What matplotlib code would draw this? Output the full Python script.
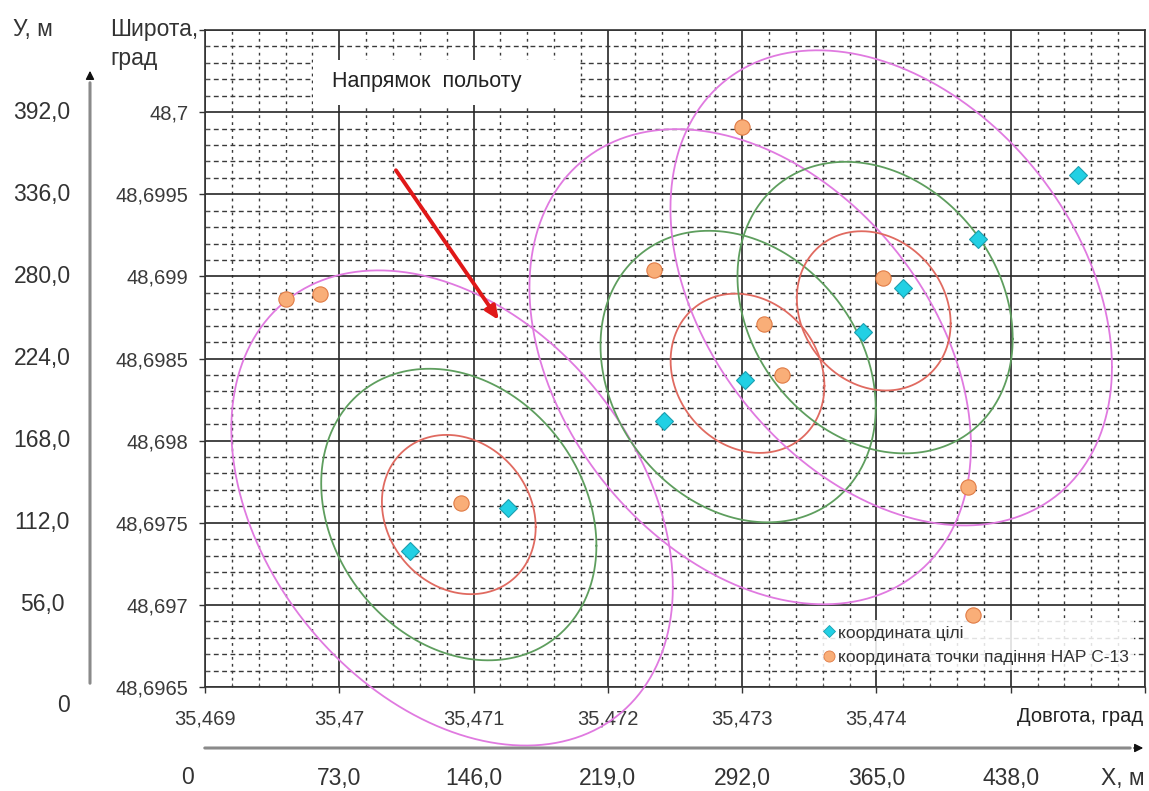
import numpy as np
import matplotlib.pyplot as plt
from matplotlib.lines import Line2D
from matplotlib.patches import Rectangle
from matplotlib.transforms import blended_transform_factory

plt.rcParams['font.family'] = ['Liberation Sans', 'DejaVu Sans']

# target coordinates (deg)
target_lon = [35.47053, 35.47126, 35.47242, 35.47302, 35.47390, 35.47420, 35.47476, 35.47550]
target_lat = [48.69733, 48.69759, 48.69812, 48.69837, 48.69866, 48.69893, 48.69923, 48.69962]

# impact points of the S-13 rockets (deg)
impact_lon = [35.46960, 35.46986, 35.47091, 35.47234, 35.47300, 35.47316, 35.47330, 35.47405, 35.47468, 35.47472]
impact_lat = [48.69886, 48.69889, 48.69762, 48.69904, 48.69991, 48.69871, 48.69840, 48.69899, 48.69772, 48.69694]

# dispersion ellipses: centre (deg), half width / half height (m), x-shift of top point (m)
ell_lon = [35.47089, 35.47089, 35.47084, 35.47304, 35.47297, 35.47306, 35.47398, 35.47399, 35.47411]
ell_lat = [48.69755, 48.69755, 48.69759, 48.69841, 48.69839, 48.69845, 48.69879, 48.69881, 48.69893]
ell_w = [41.8, 74.8, 120.0, 41.8, 74.8, 120.0, 41.8, 74.8, 120.0]
ell_h = [54.3, 99.4, 162.0, 54.3, 99.4, 162.0, 54.3, 99.4, 162.0]
ell_tilt = [-6.6, -16.0, -40.0, -6.6, -16.0, -40.0, -6.6, -16.0, -40.0]
ell_color = ['#e06a60', '#5e9e5e', '#e07ae0'] * 3

# flight direction arrow (deg)
flight_from = (35.47041, 48.69966)
flight_to = (35.47120, 48.69872)

lon_ticks = [35.469, 35.470, 35.471, 35.472, 35.473, 35.474, 35.475, 35.476]
lat_ticks = [48.6965, 48.6970, 48.6975, 48.6980, 48.6985, 48.6990, 48.6995, 48.7000, 48.7005]
x_m_ticks = [0, 73.0, 146.0, 219.0, 292.0, 365.0, 438.0]
y_m_ticks = [0, 56.0, 112.0, 168.0, 224.0, 280.0, 336.0, 392.0]
M_LON = 73000.0   # metres per degree of longitude
M_LAT = 112000.0  # metres per degree of latitude

W, H = 1149, 791
fig = plt.figure(figsize=(W / 100, H / 100), dpi=100)
ax = fig.add_axes([205 / W, 1 - 687 / H, 940 / W, 657 / H])
ax.set_xlim(lon_ticks[0], lon_ticks[-1])
ax.set_ylim(lat_ticks[0], lat_ticks[-1])


def comma(v, nd):
    return ('%.*f' % (nd, v)).rstrip('0').rstrip('.').replace('.', ',')


ax.set_xticks(lon_ticks)
ax.set_xticklabels([comma(v, 3) if v < 35.4745 else '' for v in lon_ticks])
ax.set_yticks(lat_ticks)
ax.set_yticklabels([comma(v, 4) if v < 48.7002 else '' for v in lat_ticks])
ax.set_xticks(np.arange(35.469, 35.47601, 0.0002), minor=True)
ax.set_yticks(np.arange(48.6965, 48.70051, 0.0001), minor=True)
ax.tick_params(which='major', length=4, width=1, color='#333333', labelsize=14.5,
               labelcolor='#3a3a3a')
ax.tick_params(axis='y', which='major', pad=8)
ax.tick_params(axis='x', which='major', pad=12)
ax.tick_params(which='minor', length=3, direction='in', color='#555555')

ax.set_axisbelow(True)
ax.grid(which='major', color='#262626', lw=1.2)
ax.grid(which='minor', axis='y', color='#3a3a3a', lw=1.0, ls=(0, (3.5, 2.5)))
ax.grid(which='minor', axis='x', color='#3a3a3a', lw=1.0, ls=(0, (2, 3)))
for sp in ax.spines.values():
    sp.set_color('#333333')
    sp.set_linewidth(1.2)

# ellipses
t = np.linspace(0, 2 * np.pi, 361)
for lon0, lat0, w, h, s, col in zip(ell_lon, ell_lat, ell_w, ell_h, ell_tilt, ell_color):
    k = s * h / w
    dx = w * np.cos(t)
    dy = k * np.cos(t) + np.sqrt(h ** 2 - k ** 2) * np.sin(t)
    ax.plot(lon0 + dx / M_LON, lat0 + dy / M_LAT, color=col, lw=1.3, clip_on=False, zorder=3)

ax.plot(target_lon, target_lat, ls='none', marker='D', ms=9, mfc='#22d0e4',
        mec='#1a9fb0', mew=0.8, zorder=7)
ax.plot(impact_lon, impact_lat, ls='none', marker='o', ms=11, mfc='#f9ae78',
        mec='#e07b45', mew=0.8, zorder=7)

ax.annotate('', xy=flight_to, xytext=flight_from,
            arrowprops=dict(arrowstyle='-|>,head_length=0.8,head_width=0.35',
                            color='#e01818', lw=2.8), zorder=6)

# label box "flight direction"
ax.add_patch(Rectangle((0.115, 0.886), 0.284, 0.069, transform=ax.transAxes,
                       facecolor='white', edgecolor='none', zorder=2.5))
ax.text(0.135, 0.921, 'Напрямок  польоту', transform=ax.transAxes, fontsize=15.5,
        color='#222222', va='center', ha='left', zorder=4)

handles = [Line2D([], [], ls='none', marker='D', ms=6, mfc='#22d0e4', mec='#1a9fb0', mew=0.6),
           Line2D([], [], ls='none', marker='o', ms=8, mfc='#f9ae78', mec='#e07b45', mew=0.6)]
leg = ax.legend(handles, ['координата цілі', 'координата точки падіння НАР С-13'],
                loc='lower right', bbox_to_anchor=(0.998, 0.012), fontsize=12.5,
                handlelength=0.7, handletextpad=0.2, labelspacing=0.55, borderpad=0.3,
                frameon=True, fancybox=False, framealpha=0.85, edgecolor='none')
leg.set_zorder(4)
for txt in leg.get_texts():
    txt.set_color('#333333')

# metre scales and axis titles
lbl = dict(fontsize=16.5, color='#333333')
ty = blended_transform_factory(fig.transFigure, ax.transData)
for m, lat in zip(y_m_ticks, [lat_ticks[0] + v / M_LAT for v in y_m_ticks]):
    if m == 0:
        fig.text(64 / W, 1 - 706 / H, '0', ha='center', va='center', **lbl)
    else:
        ax.text(42 / W, lat, comma(m, 1) + ',0', transform=ty, ha='center', va='center', **lbl)
tx = blended_transform_factory(ax.transData, fig.transFigure)
for m, lon in zip(x_m_ticks, [lon_ticks[0] + v / M_LON for v in x_m_ticks]):
    if m == 0:
        fig.text(187 / W, 1 - 778 / H, '0', ha='center', va='center', **lbl)
    else:
        ax.text(lon, 1 - 778 / H, comma(m, 1) + ',0', transform=tx,
                ha='center', va='center', **lbl)

fig.text(1145 / W, 1 - 778 / H, 'X, м', ha='right', va='center', **lbl)
fig.text(1143 / W, 1 - 717 / H, 'Довгота, град', ha='right', va='center', fontsize=14.5,
         color='#222222')
fig.text(13 / W, 1 - 18 / H, 'У, м', ha='left', va='top', **lbl)
fig.text(110 / W, 1 - 18 / H, 'Широта,\nград', ha='left', va='top', linespacing=1.35, **lbl)

# axis arrows
ax.annotate('', xy=(90 / W, 1 - 80 / H), xytext=(90 / W, 1 - 686 / H),
            xycoords='figure fraction', arrowprops=dict(arrowstyle='-', color='#8a8a8a', lw=2.2))
ax.annotate('', xy=(90 / W, 1 - 68 / H), xytext=(90 / W, 1 - 82 / H),
            xycoords='figure fraction',
            arrowprops=dict(arrowstyle='-|>,head_length=0.5,head_width=0.25', color='#111111', lw=1))
ax.annotate('', xy=(1133 / W, 1 - 748 / H), xytext=(202 / W, 1 - 748 / H),
            xycoords='figure fraction', arrowprops=dict(arrowstyle='-', color='#8a8a8a', lw=2.2))
ax.annotate('', xy=(1146 / W, 1 - 748 / H), xytext=(1131 / W, 1 - 748 / H),
            xycoords='figure fraction',
            arrowprops=dict(arrowstyle='-|>,head_length=0.5,head_width=0.25', color='#111111', lw=1))

fig.savefig('out.png', dpi=100)
